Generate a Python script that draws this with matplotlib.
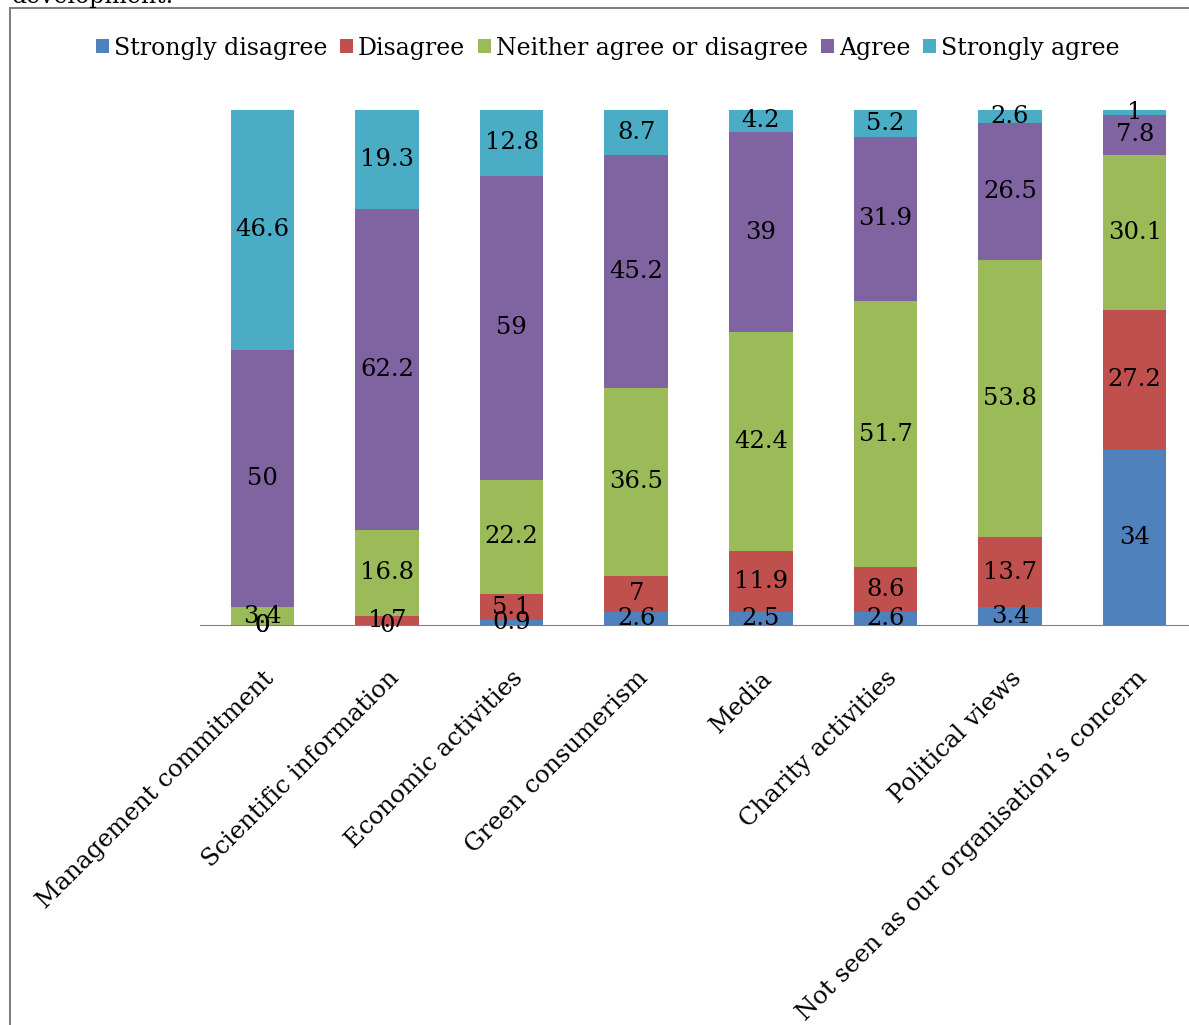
import numpy as np
import matplotlib.pyplot as plt
from matplotlib.patches import Rectangle

plt.rcParams['font.family'] = ['DejaVu Serif']

categories = ['Management commitment', 'Scientific information', 'Economic activities',
              'Green consumerism', 'Media', 'Charity activities', 'Political views',
              "Not seen as our organisation\u2019s concern"]
series = ['Strongly disagree', 'Disagree', 'Neither agree or disagree', 'Agree', 'Strongly agree']
strongly_disagree = [0, 0, 0.9, 2.6, 2.5, 2.6, 3.4, 34]
disagree = [0, 1.7, 5.1, 7, 11.9, 8.6, 13.7, 27.2]
neither = [3.4, 16.8, 22.2, 36.5, 42.4, 51.7, 53.8, 30.1]
agree = [50, 62.2, 59, 45.2, 39, 31.9, 26.5, 7.8]
strongly_agree = [46.6, 19.3, 12.8, 8.7, 4.2, 5.2, 2.6, 1]
colors = ['#4F81BD', '#C0504D', '#9BBB59', '#8064A2', '#4BACC6']

fig = plt.figure(figsize=(11.89, 10.25), dpi=100)
ax = fig.add_axes([200 / 1189, 1 - 625 / 1025, 997 / 1189, 515 / 1025])

x = np.arange(len(categories))
bottom = np.zeros(len(categories))
for name, vals, c in zip(series, [strongly_disagree, disagree, neither, agree, strongly_agree], colors):
    vals = np.array(vals, dtype=float)
    ax.bar(x, vals, 0.51, bottom=bottom, color=c, label=name)
    for xi, b, v in zip(x, bottom, vals):
        ax.text(xi, b + v / 2, f"{v:g}", ha='center', va='center', fontsize=17.5)
    bottom += vals

ax.set_xlim(-0.5, 7.5)
ax.set_ylim(0, 100)
ax.set_xticks(x)
ax.set_xticklabels(categories, rotation=45, ha='right', rotation_mode='anchor', fontsize=17.5)
ax.tick_params(axis='x', length=0, pad=30)
ax.set_yticks([])
for s in ['top', 'right', 'left']:
    ax.spines[s].set_visible(False)
ax.spines['bottom'].set_color('#808080')

fig.legend(loc='center', bbox_to_anchor=(608 / 1189, 1 - 48 / 1025), ncol=5, frameon=False,
           fontsize=17, handlelength=0.55, handleheight=0.55, handletextpad=0.2, columnspacing=0.55)

# outer frame and the cut-off line of text above it
fig.patches.append(Rectangle((10 / 1189, -0.1), 1.2, 1 - 8 / 1025 + 0.1, transform=fig.transFigure,
                             fill=False, edgecolor='#808080', linewidth=1.5, zorder=0))
fig.text(12 / 1189, 1 - 3 / 1025, 'development.', fontsize=17, va='baseline')

fig.savefig('out.png', dpi=100)
